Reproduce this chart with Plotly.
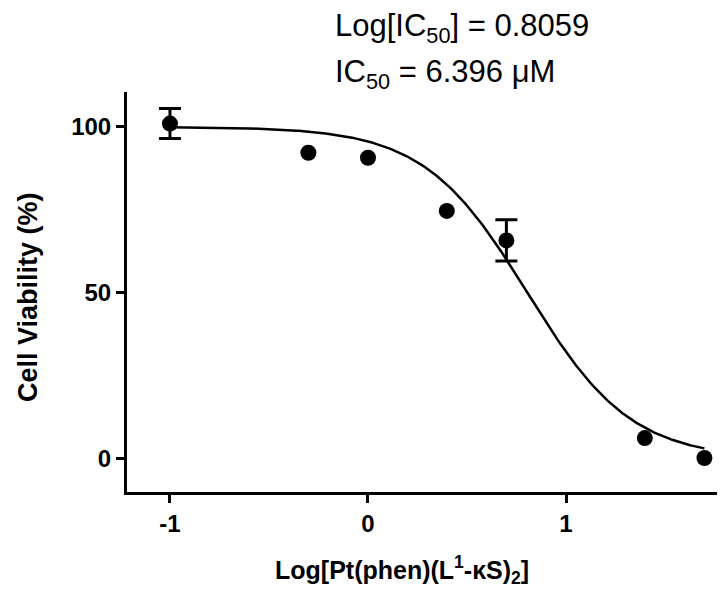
import numpy as np
import plotly.graph_objects as go

# Data
log_conc = [-1.0, -0.301, 0.0, 0.398, 0.699, 1.398, 1.699]
viability = [101.0, 92.2, 90.7, 74.7, 65.8, 6.3, 0.3]
viability_err = [4.5, 0.0, 0.0, 0.0, 6.2, 0.0, 0.0]

# Fitted dose-response parameters (from the chart's annotation / curve)
log_ic50 = 0.8059
ic50_um = 6.396
hill_slope = -1.66
fit_top = 100.0
fit_bottom = 0.0

x_ticks = [-1, 0, 1]
y_ticks = [0, 50, 100]

curve_x = np.linspace(min(log_conc), max(log_conc), 300)
curve_y = fit_bottom + (fit_top - fit_bottom) / (1 + 10 ** ((log_ic50 - curve_x) * hill_slope))

err_idx = [i for i, e in enumerate(viability_err) if e > 0]

fig = go.Figure()
fig.add_trace(go.Scatter(x=curve_x, y=curve_y, mode="lines",
                         line=dict(color="black", width=2.5), showlegend=False, hoverinfo="skip"))
fig.add_trace(go.Scatter(
    x=[log_conc[i] for i in err_idx], y=[viability[i] for i in err_idx], mode="markers",
    marker=dict(color="black", size=1, opacity=0),
    error_y=dict(type="data", array=[viability_err[i] for i in err_idx], visible=True,
                 color="black", thickness=3, width=11),
    showlegend=False))
fig.add_trace(go.Scatter(x=log_conc, y=viability, mode="markers",
                         marker=dict(color="black", size=16, symbol="circle"), showlegend=False))

font_family = "Liberation Sans, Arial, sans-serif"
axis_common = dict(showline=True, linecolor="black", linewidth=3, ticks="outside",
                   ticklen=8, tickwidth=3, tickcolor="black", showgrid=False, zeroline=False,
                   tickfont=dict(family=font_family, size=24, color="black", weight="bold"))

fig.update_xaxes(range=[-1.217, 1.803], tickvals=x_ticks, ticktext=[str(v) for v in x_ticks],
                 **axis_common)
fig.update_yaxes(range=[-9.94, 110.5], tickvals=y_ticks, ticktext=[str(v) for v in y_ticks],
                 **axis_common)

fig.update_layout(
    width=717, height=582,
    margin=dict(l=119, r=0, t=84, b=98),
    plot_bgcolor="white", paper_bgcolor="white",
    annotations=[
        dict(text=f"Log[IC<sub>50</sub>] = {log_ic50:.4f}", xref="paper", yref="paper",
             x=0.344, y=1.16, xanchor="left", yanchor="middle", showarrow=False,
             font=dict(family=font_family, size=31, color="black")),
        dict(text=f"IC<sub>50</sub> = {ic50_um:.3f} \u03bcM", xref="paper", yref="paper",
             x=0.344, y=1.045, xanchor="left", yanchor="middle", showarrow=False,
             font=dict(family=font_family, size=31, color="black")),
        dict(text="Cell Viability (%)", xref="paper", yref="paper", x=-0.1656, y=0.4875,
             textangle=-90, xanchor="center", yanchor="middle", showarrow=False,
             font=dict(family=font_family, size=27, color="black", weight="bold")),
        dict(text="Log[Pt(phen)(L<sup>1</sup>-\u03baS)<sub>2</sub>]", xref="paper", yref="paper",
             x=0.46, y=-0.195, xanchor="center", yanchor="middle", showarrow=False,
             font=dict(family=font_family, size=25, color="black", weight="bold")),
    ],
)

fig.write_html("out.html")
